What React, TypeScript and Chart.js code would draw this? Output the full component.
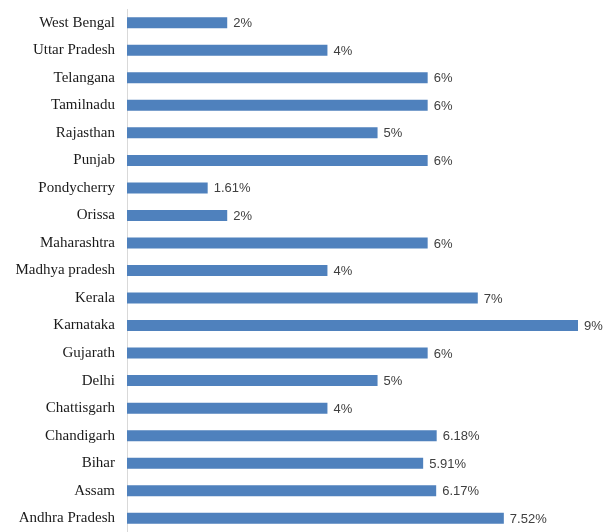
import React, { useEffect, useRef } from "react";
import { Chart, registerables } from "chart.js";

Chart.register(...registerables);

const states = [
  "West Bengal",
  "Uttar Pradesh",
  "Telangana",
  "Tamilnadu",
  "Rajasthan",
  "Punjab",
  "Pondycherry",
  "Orissa",
  "Maharashtra",
  "Madhya pradesh",
  "Kerala",
  "Karnataka",
  "Gujarath",
  "Delhi",
  "Chattisgarh",
  "Chandigarh",
  "Bihar",
  "Assam",
  "Andhra Pradesh",
];

const values = [2, 4, 6, 6, 5, 6, 1.61, 2, 6, 4, 7, 9, 6, 5, 4, 6.18, 5.91, 6.17, 7.52];

const valueLabels = values.map((v) => `${v}%`);

const labelPlugin = {
  id: "valueLabels",
  afterDatasetsDraw(chart: any) {
    const ctx = chart.ctx;
    const meta = chart.getDatasetMeta(0);
    ctx.save();
    ctx.font = "13px 'Liberation Sans', Arial, sans-serif";
    ctx.fillStyle = "#404040";
    ctx.textAlign = "left";
    ctx.textBaseline = "middle";
    meta.data.forEach((bar: any, i: number) => {
      ctx.fillText(valueLabels[i], bar.x + 6, bar.y + 1);
    });
    ctx.restore();
  },
};

export default function App() {
  const ref = useRef<HTMLCanvasElement>(null);
  useEffect(() => {
    if (!ref.current) return;
    const chart = new Chart(ref.current, {
      type: "bar",
      data: {
        labels: states,
        datasets: [
          {
            data: values,
            backgroundColor: "#4F81BD",
            borderWidth: 0,
            barPercentage: 0.8,
            categoryPercentage: 0.5,
          },
        ],
      },
      options: {
        indexAxis: "y",
        animation: false,
        responsive: false,
        maintainAspectRatio: false,
        layout: { padding: { top: 9, right: 28, bottom: 0, left: 0 } },
        plugins: {
          legend: { display: false },
          tooltip: { enabled: false },
        },
        scales: {
          x: {
            min: 0,
            max: 9,
            display: false,
          },
          y: {
            afterFit: (scale: any) => {
              scale.width = 127;
              scale.paddingTop = 0;
              scale.paddingBottom = 0;
            },
            grid: { display: false, drawTicks: false },
            border: { display: true, color: "#d9d9d9", width: 1 },
            ticks: {
              padding: 12,
              color: "#1a1a1a",
              font: { family: "'Liberation Serif', 'Times New Roman', serif", size: 15 },
              autoSkip: false,
            },
          },
        },
      },
      plugins: [labelPlugin],
    });
    return () => chart.destroy();
  }, []);
  return (
    <div style={{ position: "fixed", left: 0, top: 0, width: 606, height: 532, background: "#fff" }}>
      <canvas ref={ref} width={606} height={532} style={{ width: 606, height: 532 }} />
    </div>
  );
}
